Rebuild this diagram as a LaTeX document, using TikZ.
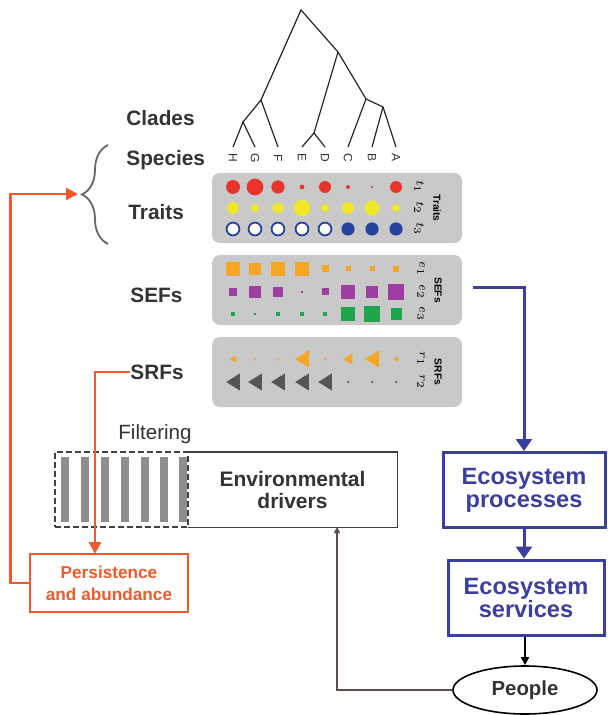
\documentclass[tikz,border=0pt]{standalone}
\usepackage{fontspec}
\setmainfont{Liberation Sans}
\setsansfont{Liberation Sans}
\usetikzlibrary{arrows.meta, positioning, decorations.pathreplacing, shapes.geometric}
\definecolor{fgray}{HTML}{333333}
\definecolor{fpanel}{HTML}{C9C9C9}
\definecolor{forange}{HTML}{EE5A2A}
\definecolor{fblue}{HTML}{3B3F9E}
\definecolor{fred}{HTML}{E8352B}
\definecolor{fyellow}{HTML}{EEE826}
\definecolor{fdotblue}{HTML}{2643A0}
\definecolor{fsqorange}{HTML}{F5A623}
\definecolor{fpurple}{HTML}{9C3FA0}
\definecolor{fgreen}{HTML}{1FA64A}
\definecolor{ftri}{HTML}{555555}
\definecolor{fbar}{HTML}{8E8E8E}
\definecolor{fbrown}{HTML}{5E4C4A}
\tikzset{
  tree/.style={black!85, line width=0.6pt},
  leaflbl/.style={font=\fontsize{6}{6}\selectfont, text=fgray, rotate=-90, inner sep=0pt},
  rowlbl/.style={font=\fontsize{10.4}{12}\selectfont\bfseries, text=fgray, anchor=west, inner sep=0pt},
  panel/.style={fill=fpanel, rounded corners=4pt, minimum width=125pt,
                minimum height=35pt, inner sep=0pt},
  sidelbl/.style={font=\fontsize{5.1}{6}\selectfont\bfseries, rotate=-90, inner sep=0pt},
  varlbl/.style={font=\fontsize{6}{6}\selectfont, rotate=-90, inner sep=0pt},
  filterbox/.style={draw=black!75, dashed, dash pattern=on 3pt off 1.5pt, line width=0.9pt,
                    minimum width=66.5pt, minimum height=37.5pt, inner sep=0pt},
  envbox/.style={minimum width=104.5pt, minimum height=37.5pt, align=center,
                 font=\fontsize{10.5}{11}\selectfont\bfseries, text=fgray},
  envline/.style={draw=black!75, line width=0.9pt},
  persbox/.style={draw=forange, line width=1.4pt, minimum width=79pt, minimum height=29pt,
                  align=center, text=forange, font=\fontsize{8.6}{11}\selectfont\bfseries},
  ecobox/.style={draw=fblue, line width=1.5pt, minimum height=37.5pt, align=center,
                 text=fblue, font=\fontsize{11.8}{11.5}\selectfont\bfseries},
  peopleell/.style={draw=black, ellipse, line width=0.8pt, minimum width=72pt, minimum height=24pt,
                    inner sep=0pt, text=fgray, font=\fontsize{10.2}{12}\selectfont\bfseries},
  orgarr/.style={-{Triangle[length=6pt,width=6pt]}, forange, line width=1.4pt},
  bluearr/.style={-{Triangle[length=6pt,width=8pt]}, fblue, line width=1.5pt},
  blackarr/.style={-{Triangle[length=4pt,width=4pt]}, black, line width=0.8pt},
  brownarr/.style={-{Triangle[length=3pt,width=3pt]}, fbrown, line width=0.8pt},
}
\begin{document}
\begin{tikzpicture}[x=0.5pt, y=-0.5pt]
  \useasboundingbox (0,0) rectangle (607,715);

  %% Phylogeny
  \coordinate (root) at (301,10);
  \coordinate (nR) at (338,52);
  \coordinate (nHGF) at (261,100);
  \coordinate (nHG) at (243,122);
  \coordinate (nED) at (314,133);
  \coordinate (nCBA) at (366,99);
  \coordinate (nBA) at (383,107);
  \foreach \n/\x in {H/233, G/255, F/278, E/302, D/325, C/348, B/372, A/396}{
    \coordinate (leaf\n) at (\x,147);
    \node[leaflbl] (lbl\n) at (\x,158) {\n};
  }
  \draw[tree] (leafH) -- (nHG) -- (leafG);
  \draw[tree] (nHG) -- (nHGF) -- (leafF);
  \draw[tree] (nHGF) -- (root) -- (nR) -- (nCBA) -- (leafC);
  \draw[tree] (leafE) -- (nED) -- (leafD);
  \draw[tree] (nED) -- (nR);
  \draw[tree] (nCBA) -- (nBA) -- (leafB);
  \draw[tree] (nBA) -- (leafA);

  %% Row labels on the left
  \node[rowlbl] (clades) at (126,118) {Clades};
  \node[rowlbl] (species) at (126,160) {Species};
  \node[rowlbl] (traits) at (128,212) {Traits};
  \node[rowlbl] (sefs) at (130,295) {SEFs};
  \node[rowlbl] (srfs) at (130,372) {SRFs};
  \draw[black!60, line width=0.9pt, decorate, decoration={brace, amplitude=13pt}]
    (108,244) -- (108,145);
  \coordinate (bracetip) at (78,194);

  %% Traits panel
  \node[panel] (traitpanel) at (337,208) {};
  \foreach \x/\r in {233/3.5, 255/4.2, 278/3.3, 302/1.2, 325/3, 348/1, 372/0.6, 396/3}{
    \fill[fred] (\x,187) circle (\r pt);
  }
  \foreach \x/\r in {233/3, 255/2, 278/2.8, 302/4.2, 325/2, 348/3, 372/3.7, 396/2}{
    \fill[fyellow] (\x,208) circle (\r pt);
  }
  \foreach \x in {233,255,278,302,325}{
    \draw[fdotblue, fill=white, line width=0.9pt] (\x,229) circle (3.2pt);
  }
  \foreach \x in {348,372,396}{
    \fill[fdotblue] (\x,229) circle (3.3pt);
  }
  \node[varlbl] (t1) at (419,187) {$t_1$};
  \node[varlbl] (t2) at (419,208) {$t_2$};
  \node[varlbl] (t3) at (419,229) {$t_3$};
  \node[sidelbl] (traitside) at (437,208) {Traits};

  %% SEFs panel
  \node[panel] (sefpanel) at (337,290) {};
  \foreach \x/\h in {233/3.7, 255/3, 278/3.5, 302/3.7, 325/1.75, 348/1.25, 372/1.25, 396/1.5}{
    \fill[fsqorange] (\x,269) +(-\h pt,-\h pt) rectangle +(\h pt,\h pt);
  }
  \foreach \x/\h in {233/2, 255/3, 278/2.3, 302/0.6, 325/1.75, 348/3.3, 372/3, 396/4}{
    \fill[fpurple] (\x,292) +(-\h pt,-\h pt) rectangle +(\h pt,\h pt);
  }
  \foreach \x/\h in {233/1.1, 255/0.6, 278/1.1, 302/1.1, 325/1.1, 348/3.3, 372/4.2, 396/2.75}{
    \fill[fgreen] (\x,314) +(-\h pt,-\h pt) rectangle +(\h pt,\h pt);
  }
  \node[varlbl] (e1) at (421,269) {$e_1$};
  \node[varlbl] (e2) at (421,292) {$e_2$};
  \node[varlbl] (e3) at (421,314) {$e_3$};
  \node[sidelbl] (sefside) at (438,290) {SEFs};

  %% SRFs panel
  \node[panel] (srfpanel) at (337,372) {};
  \foreach \x/\s in {233/1.75, 255/0.6, 278/0.6, 302/4.25, 325/0.6, 348/2.75, 372/4.25, 396/1.5}{
    \fill[fsqorange] (\x,359) +(-0.8*\s pt,0) -- +(0.8*\s pt,\s pt) -- +(0.8*\s pt,-\s pt) -- cycle;
  }
  \foreach \x/\s in {233/4.25, 255/4.25, 278/4.25, 302/4.25, 325/4.25, 348/0.7, 372/0.7, 396/0.7}{
    \fill[ftri] (\x,382) +(-0.8*\s pt,0) -- +(0.8*\s pt,\s pt) -- +(0.8*\s pt,-\s pt) -- cycle;
  }
  \node[varlbl] (r1) at (421,359) {$r_1$};
  \node[varlbl] (r2) at (421,382) {$r_2$};
  \node[sidelbl] (srfside) at (438,372) {SRFs};

  %% Filtering and environmental drivers
  \node[font=\fontsize{10.3}{12}\selectfont, text=fgray] (filtlbl) at (155,434) {Filtering};
  \foreach \x in {65,85,105,125,145,164,183}{
    \fill[fbar] (\x-4,457) rectangle (\x+4,522);
  }
  \node[filterbox] (filter) at (121.5,489.5) {};
  \node[envbox] (env) at (292.5,489.5) {Environmental\\drivers};
  \draw[envline] (env.north west) -- (env.north east) -- (env.south east) -- (env.south west);

  %% Persistence
  \node[persbox] (persist) at (109,583) {Persistence\\and abundance};
  \coordinate (persin) at (95,554);
  \draw[orgarr] (srfs.west) -| (persin);
  \draw[orgarr] (persist.west) -- ++(-18,0) |- (bracetip);

  %% Ecosystem side
  \node[ecobox, minimum width=81pt] (proc) at (524,490) {Ecosystem\\processes};
  \node[ecobox, minimum width=78pt] (serv) at (526,597.5) {Ecosystem\\services};
  \node[peopleell] (people) at (525,690) {People};
  \coordinate (sefout) at (473,288);
  \coordinate (envin) at (337,527);
  \draw[bluearr] (sefout) -| (proc.north);
  \draw[bluearr] (proc.south) -- (proc.south |- serv.north);
  \draw[blackarr] (people.north |- serv.south) -- (people.north);
  \draw[brownarr] (people.west) -| (envin);

\end{tikzpicture}
\end{document}
